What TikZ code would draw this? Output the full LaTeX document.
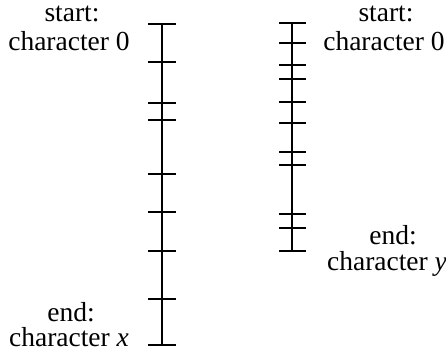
\documentclass[tikz,border=0pt]{standalone}
\usepackage{fontspec}
\setmainfont{Liberation Serif}
\begin{document}
\begin{tikzpicture}[x=1pt,y=-1pt,
  axis/.style={line width=1.7pt},
  lbl/.style={inner sep=0pt,anchor=base,font=\fontsize{27.5}{30}\selectfont}]
\useasboundingbox (0,0) rectangle (446,352);
% left axis
\coordinate (la) at (162,24);
\coordinate (lb) at (162,345.3);
\draw[axis] (la) -- (lb);
\foreach \y in {24,62.3,103.3,120.3,174,212.3,251,299.3,345.3}
  \draw[axis] (148,\y) -- (175.5,\y);
% right axis
\coordinate (ra) at (292.3,22.7);
\coordinate (rb) at (292.3,250.7);
\draw[axis] (ra) -- (rb);
\foreach \y in {22.7,42.7,65.3,78.7,101.7,123.3,152,165.3,214.3,227.7,250.7}
  \draw[axis] (279.3,\y) -- (306,\y);
% labels
\node[lbl] (l1) at (72,22) {start:};
\node[lbl] (l2) at (69,51) {character 0};
\node[lbl] (l3) at (71,321) {end:};
\node[lbl] (l4) at (69,346.5) {character \textit{x}};
\node[lbl] (r1) at (386,22) {start:};
\node[lbl] (r2) at (384,51) {character 0};
\node[lbl] (r3) at (393,244) {end:};
\node[lbl] (r4) at (387,270) {character \textit{y}};
\end{tikzpicture}
\end{document}
